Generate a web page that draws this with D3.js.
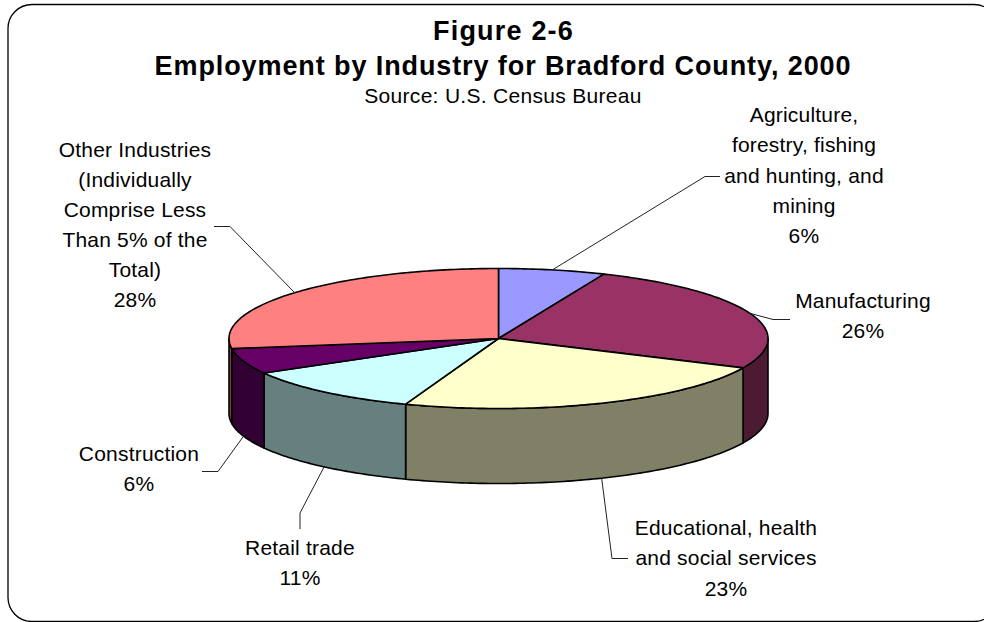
<!DOCTYPE html>
<html>
<head>
<meta charset="utf-8">
<script src="https://cdn.jsdelivr.net/npm/d3@7"></script>
<style>
html, body { margin: 0; padding: 0; background: #fff; }
svg { display: block; }
text { font-family: "Liberation Sans", Arial, sans-serif; fill: #000; }
</style>
</head>
<body>
<div id="chart"></div>
<script>
// values, going clockwise from 12 o'clock
const categories = [
    ["Agriculture,", "forestry, fishing", "and hunting, and", "mining"],
    ["Manufacturing"],
    ["Educational, health", "and social services"],
    ["Retail trade"],
    ["Construction"],
    ["Other Industries", "(Individually", "Comprise Less", "Than 5% of the", "Total)"]
];
const shares = [6.4, 25.5, 23.7, 11.2, 5.9, 27.3];
const percentLabels = ["6%", "26%", "23%", "11%", "6%", "28%"];
const topColors = ["#9999ff", "#993366", "#ffffcc", "#ccffff", "#660066", "#ff8080"];
const sideColors = ["#4d4d80", "#4d1a33", "#808066", "#668080", "#330033", "#804040"];
const titleLines = ["Figure 2-6", "Employment by Industry for Bradford County, 2000"];
const subtitle = "Source: U.S. Census Bureau";

// label layout: text centre, first baseline, leader bend and leader end
const labelPos = [
    {x: 804, y: 122, step: 30.3, bend: [705, 176.5], end: [720, 176.5]},
    {x: 863, y: 308, step: 30.3, bend: [773, 319.5], end: [790, 319.5]},
    {x: 726, y: 535, step: 30.3, bend: [612, 558.5], end: [628, 558.5]},
    {x: 300, y: 555, step: 29.5, bend: [300, 513], end: [300, 529]},
    {x: 139, y: 461, step: 30, bend: [218, 471.5], end: [202, 471.5]},
    {x: 135, y: 157, step: 30, bend: [230, 226.5], end: [214, 226.5]}
];

const width = 984, height = 622;
const cx = 498.5, cy = 338.5, rx = 269.5, ry = 70, depth = 75;

const svg = d3.select("#chart").append("svg")
    .attr("width", width)
    .attr("height", height);

// rounded border, runs off the right side of the picture
svg.append("rect")
    .attr("x", 8).attr("y", 4.5)
    .attr("width", 990).attr("height", 617)
    .attr("rx", 24).attr("ry", 24)
    .attr("fill", "#fff")
    .attr("stroke", "#000")
    .attr("stroke-width", 1.3);

// unit circle to screen, squashed into an ellipse
const xs = d3.scaleLinear().domain([-1, 1]).range([cx - rx, cx + rx]);
const ys = d3.scaleLinear().domain([-1, 1]).range([cy - ry, cy + ry]);
const px = a => xs(Math.sin(a));
const py = a => ys(-Math.cos(a));

const arcs = d3.pie().sort(null).value(d => d)(shares);

function sample(a0, a1) {
    const n = Math.max(2, Math.ceil((a1 - a0) * 60));
    return d3.range(n + 1).map(i => a0 + (a1 - a0) * i / n);
}

const line = d3.line();

// sides first, only the part of each slice facing the viewer
const front0 = Math.PI / 2, front1 = Math.PI * 1.5;
arcs.forEach(function(d, i) {
    const a0 = Math.max(d.startAngle, front0);
    const a1 = Math.min(d.endAngle, front1);
    if (a1 <= a0) return;
    const angles = sample(a0, a1);
    const pts = angles.map(a => [px(a), py(a)])
        .concat(angles.slice().reverse().map(a => [px(a), py(a) + depth]));
    svg.append("path")
        .attr("d", line(pts) + "Z")
        .attr("fill", sideColors[i])
        .attr("stroke", "#000")
        .attr("stroke-width", 1.6)
        .attr("stroke-linejoin", "round");
});

// top of the pie
svg.append("g").selectAll("path")
    .data(arcs)
    .enter().append("path")
    .attr("d", function(d) {
        const pts = sample(d.startAngle, d.endAngle).map(a => [px(a), py(a)]);
        return line([[cx, cy]].concat(pts)) + "Z";
    })
    .attr("fill", (d, i) => topColors[i])
    .attr("stroke", "#000")
    .attr("stroke-width", 1.6)
    .attr("stroke-linejoin", "round");

// leader lines start on the rim at the middle of the slice
const leaders = svg.append("g");
arcs.forEach(function(d, i) {
    const mid = (d.startAngle + d.endAngle) / 2;
    const front = mid > front0 && mid < front1;
    const start = [px(mid), py(mid) + (front ? depth : 0)];
    leaders.append("path")
        .attr("d", line([start, labelPos[i].bend, labelPos[i].end]))
        .attr("fill", "none")
        .attr("stroke", "#222")
        .attr("stroke-width", 1);
});

// slice labels
categories.forEach(function(lines, i) {
    const pos = labelPos[i];
    lines.concat([percentLabels[i]]).forEach(function(t, j) {
        svg.append("text")
            .attr("x", pos.x)
            .attr("y", pos.y + j * pos.step)
            .attr("text-anchor", "middle")
            .attr("font-size", 21)
            .attr("letter-spacing", 0.2)
            .text(t);
    });
});

// titles
svg.append("text").attr("x", 503.5).attr("y", 39.5)
    .attr("text-anchor", "middle").attr("font-size", 27).attr("font-weight", "bold")
    .attr("letter-spacing", 1.2)
    .text(titleLines[0]);
svg.append("text").attr("x", 503).attr("y", 75)
    .attr("text-anchor", "middle").attr("font-size", 27).attr("font-weight", "bold")
    .attr("letter-spacing", 0.9)
    .text(titleLines[1]);
svg.append("text").attr("x", 503).attr("y", 102.5)
    .attr("text-anchor", "middle").attr("font-size", 21)
    .attr("letter-spacing", 0.3)
    .text(subtitle);
</script>
</body>
</html>
